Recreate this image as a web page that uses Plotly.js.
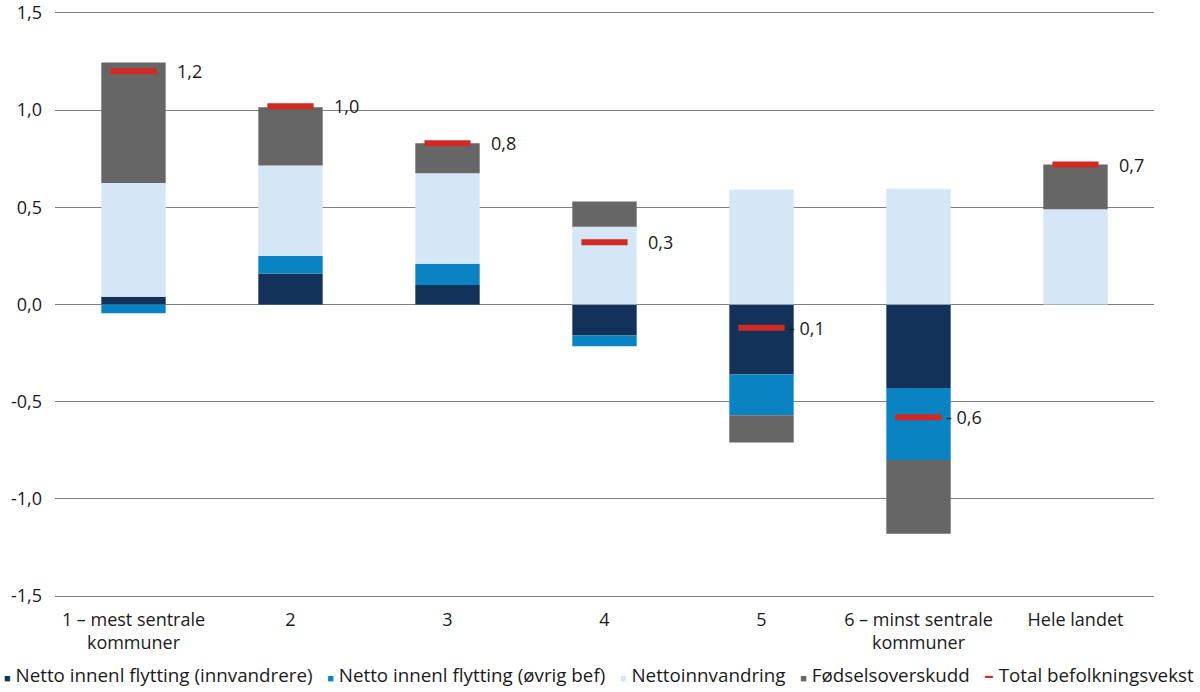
<!DOCTYPE html>
<html>
<head>
<meta charset="utf-8">
<script src="https://cdn.plot.ly/plotly-3.0.1.min.js"></script>
<style>html,body{margin:0;padding:0;background:#fff}#chart{width:1200px;height:692px}</style>
</head>
<body>
<div id="chart"></div>
<script>
const categories = ["1 – mest sentrale<br>kommuner", "2", "3", "4", "5", "6 – minst sentrale<br>kommuner", "Hele landet"];
const innvandrere = [0.04, 0.16, 0.10, -0.16, -0.36, -0.43, 0];
const ovrigBef = [-0.045, 0.09, 0.11, -0.055, -0.21, -0.37, 0];
const nettoinnvandring = [0.585, 0.465, 0.465, 0.40, 0.59, 0.595, 0.49];
const fodselsoverskudd = [0.62, 0.30, 0.155, 0.13, -0.14, -0.38, 0.23];
const total = [1.20, 1.02, 0.83, 0.32, -0.12, -0.58, 0.72];
const totalLabels = ["1,2", "1,0", "0,8", "0,3", "- 0,1", "- 0,6", "0,7"];
const seriesNames = ["Netto innenl flytting (innvandrere)", "Netto innenl flytting (øvrig bef)", "Nettoinnvandring", "Fødselsoverskudd", "Total befolkningsvekst"];
const yTicks = [-1.5, -1.0, -0.5, 0.0, 0.5, 1.0, 1.5];
const yTickLabels = ["-1,5", "-1,0", "-0,5", "0,0", "0,5", "1,0", "1,5"];

const FONT = "'Open Sans', sans-serif";
const FS = 18;
const TXT = "#1a1a1a";
const colors = ["#12325a", "#0a83c2", "#d5e6f6", "#666666", "#d22a22"];
const barSeries = [innvandrere, ovrigBef, nettoinnvandring, fodselsoverskudd];
const catIdx = categories.map((c, i) => i);

const traces = barSeries.map((vals, i) => ({
  type: "bar",
  x: catIdx,
  y: vals,
  name: seriesNames[i],
  width: 0.41,
  marker: {color: colors[i], line: {width: 0}},
  hoverinfo: "skip"
}));

traces.push({
  type: "scatter",
  mode: "markers",
  x: catIdx,
  y: total,
  name: seriesNames[4],
  marker: {symbol: "line-ew", size: 33, color: colors[4], line: {color: colors[4], width: 6}},
  hoverinfo: "skip"
});

const annotations = total.map((v, i) => ({
  x: i,
  y: v,
  xref: "x",
  yref: "y",
  text: totalLabels[i],
  showarrow: false,
  xanchor: "left",
  yanchor: "middle",
  xshift: v < 0 ? 25 : 41,
  font: {family: FONT, size: FS, color: TXT}
}));

// legend drawn as one line of text with coloured symbols
const legendParts = seriesNames.map((n, i) => {
  const sym = i === 4 ? "<b>–</b>" : "■";
  const size = i === 4 ? 19 : 11;
  return '<span style="color:' + colors[i] + ';font-size:' + size + 'px">' + sym + '</span> ' + n;
});
annotations.push({
  xref: "paper",
  yref: "paper",
  x: -0.048,
  y: -0.131,
  xanchor: "left",
  yanchor: "middle",
  showarrow: false,
  text: legendParts.join("&nbsp;&nbsp;&nbsp;"),
  font: {family: FONT, size: 18.8, color: TXT}
});

const layout = {
  width: 1200,
  height: 692,
  margin: {l: 55, r: 46, t: 11, b: 94},
  paper_bgcolor: "#ffffff",
  plot_bgcolor: "#ffffff",
  barmode: "relative",
  font: {family: FONT, size: FS, color: TXT},
  xaxis: {
    range: [-0.5, 6.5],
    tickvals: catIdx,
    ticktext: categories,
    showgrid: false,
    zeroline: false,
    showline: false,
    ticks: "",
    automargin: false,
    tickfont: {family: FONT, size: FS, color: TXT},
    ticklabelstandoff: 9
  },
  yaxis: {
    range: [-1.51, 1.51],
    tickvals: yTicks,
    ticktext: yTickLabels,
    showgrid: true,
    gridcolor: "#7f7f7f",
    gridwidth: 1,
    zeroline: false,
    showline: false,
    ticks: "",
    automargin: false,
    ticklabeloverflow: "allow",
    ticklabelstandoff: 12,
    tickfont: {family: FONT, size: FS, color: TXT}
  },
  showlegend: false,
  annotations: annotations
};

Plotly.newPlot("chart", traces, layout, {displayModeBar: false, staticPlot: true});
</script>
</body>
</html>
